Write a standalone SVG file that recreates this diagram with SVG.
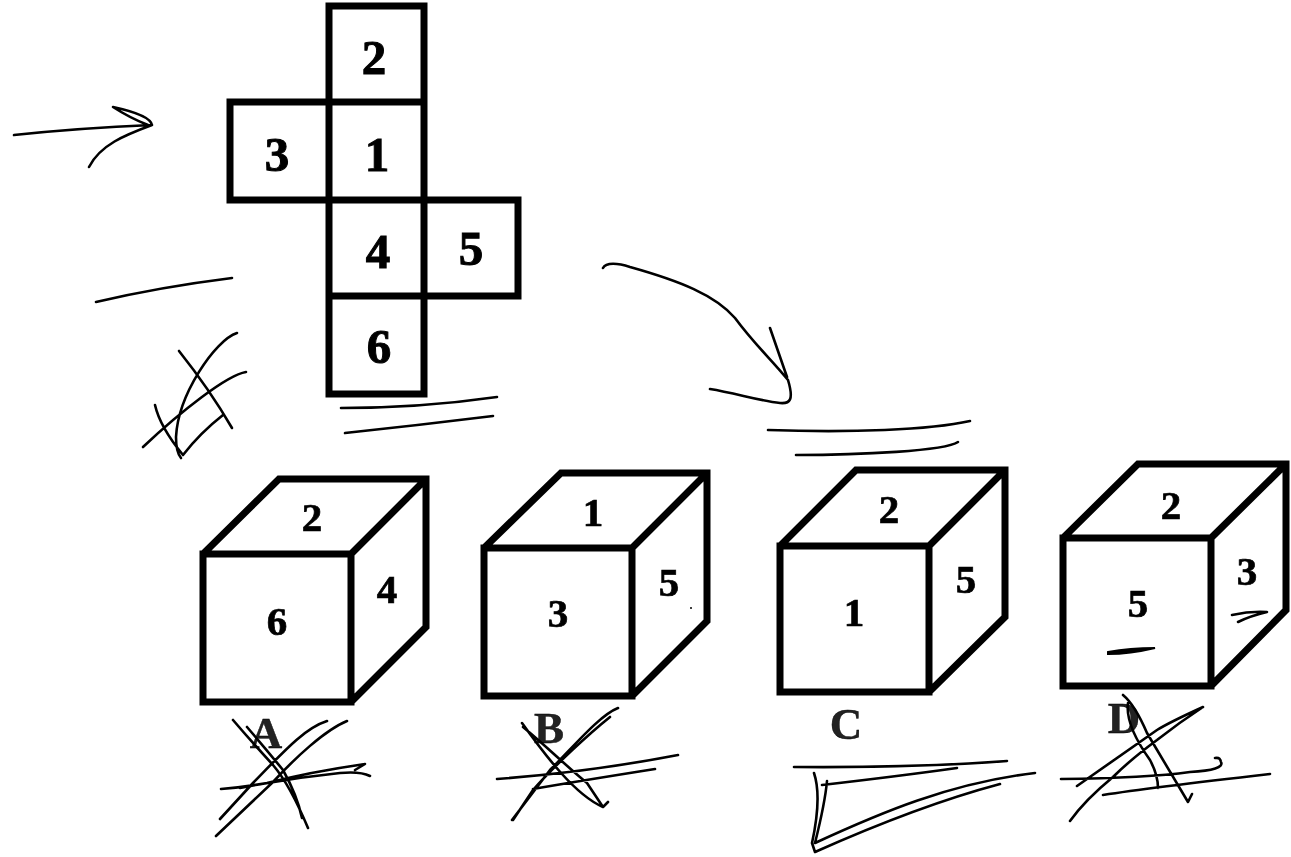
<svg xmlns="http://www.w3.org/2000/svg" width="1291" height="857" viewBox="0 0 1291 857">
<defs><filter id="soft" x="-5%" y="-5%" width="110%" height="110%"><feGaussianBlur stdDeviation="0.7"/></filter></defs>
<style>
.g{filter:url(#soft)}
.b{fill:none;stroke:#000;stroke-width:7;stroke-linejoin:miter}
.c{fill:none;stroke:#000;stroke-width:2.6;stroke-linecap:round;stroke-linejoin:round}
.t{font-family:"Liberation Serif",serif;font-weight:bold;fill:#000;text-anchor:middle;stroke:#000}
.n{font-size:49px;stroke-width:1}.m{font-size:41px;stroke-width:.7}.l{font-size:45px;fill:#222;stroke-width:.4}
</style>
<rect width="1291" height="857" fill="#fff"/>
<g id="net" class="g">
<path class="b" d="M329 6H424V394H329ZM329 102H424M230 102H329V200H230ZM329 200H518V296H329M424 200V296"/>
<text class="t n" x="374" y="74">2</text><text class="t n" x="277" y="171">3</text><text class="t n" x="377" y="171">1</text><text class="t n" x="378" y="268">4</text><text class="t n" x="471" y="265">5</text><text class="t n" x="379" y="363">6</text>
</g>
<g id="cubeA" class="g"><path class="b" d="M203 554H351V702H203ZM203 554L279 479H426V627L351 702M351 554L426 479"/>
<text class="t m" x="312" y="531">2</text><text class="t m" x="277" y="635">6</text><text class="t m" x="387" y="603">4</text><text class="t l" x="266" y="748">A</text></g>
<g id="cubeB" class="g"><path class="b" d="M484 548H632V696H484ZM484 548L561 473H707V621L632 696M632 548L707 473"/>
<text class="t m" x="593" y="526">1</text><text class="t m" x="558" y="627">3</text><text class="t m" x="669" y="596">5</text><text class="t l" x="549" y="743">B</text></g>
<g id="cubeC" class="g"><path class="b" d="M780 546H929V692H780ZM780 546L856 470H1005V617L929 692M929 546L1005 470"/>
<text class="t m" x="889" y="523">2</text><text class="t m" x="854" y="626">1</text><text class="t m" x="966" y="593">5</text><text class="t l" x="846" y="739">C</text></g>
<g id="cubeD" class="g"><path class="b" d="M1063 538H1211V686H1063ZM1063 538L1138 464H1286V610L1211 686M1211 538L1286 464"/>
<text class="t m" x="1171" y="519">2</text><text class="t m" x="1138" y="617">5</text><text class="t m" x="1247" y="585">3</text><text class="t l" x="1124" y="733">D</text></g>
<g id="connectors">
<path class="c" d="M14 135Q80 128 152 125Q150 115 113 107Q130 118 148 125M152 125C125 135 100 145 89 167"/>
<path class="c" d="M96 302Q160 287 232 278"/>
<path class="c" d="M237 333C215 340 178 395 176 437Q176 452 181 458M179 351Q210 390 232 428M246 372C227 375 180 412 143 447M155 405Q160 427 183 455Q200 433 223 415"/>
<path class="c" d="M341 408Q420 408 497 397M345 433Q420 425 493 416"/>
<path class="c" d="M603 268C606 262 618 263 630 267C680 281 715 295 735 318C755 345 770 358 788 380C794 400 790 404 780 403C760 401 735 393 710 389M770 328L787 377"/>
<path class="c" d="M768 430C850 433 930 430 970 421M796 455C860 455 945 451 958 442"/>
<path class="c" d="M233 720Q250 740 273 765Q290 785 308 828M247 727Q265 748 283 770Q297 795 302 818M327 721C305 728 285 750 253 783L220 819M347 721C325 730 295 758 273 782L216 836M221 789Q245 787 267 783Q310 772 365 764L355 770M240 788Q290 778 340 773Q360 771 370 776"/>
<path class="c" d="M522 723C545 755 575 795 603 807L608 802M523 727C545 745 565 765 587 783L603 807M618 708C600 715 575 745 550 770L512 820M610 717C590 733 555 765 533 790L513 820M497 779Q590 772 678 755M533 789Q573 782 655 769"/>
<path class="c" d="M794 767Q913 768 1007 761M822 785Q900 776 957 768M814 773Q822 797 812 843L815 852C880 823 940 800 1000 784M827 781Q825 803 815 843C880 813 950 783 1035 773"/>
<path class="c" d="M1123 695Q1135 705 1147 733L1188 802L1192 794M1128 703Q1125 725 1150 760Q1158 775 1158 788M1203 707Q1170 722 1157 730L1077 786M1203 707Q1180 722 1157 740Q1130 760 1113 777Q1085 800 1070 821M1061 779Q1147 778 1190 772Q1225 770 1221 762Q1220 757 1215 758M1103 795Q1147 788 1270 774"/>
<path d="M1108 652Q1130 648 1155 648Q1130 654 1108 654Z" fill="#000" stroke="#000" stroke-width="2"/>
<path d="M1232 615Q1250 611 1267 612Q1250 616 1238 622" class="c" stroke-width="3"/>
<circle cx="691" cy="608" r="1" fill="#000"/>
</g>
</svg>
